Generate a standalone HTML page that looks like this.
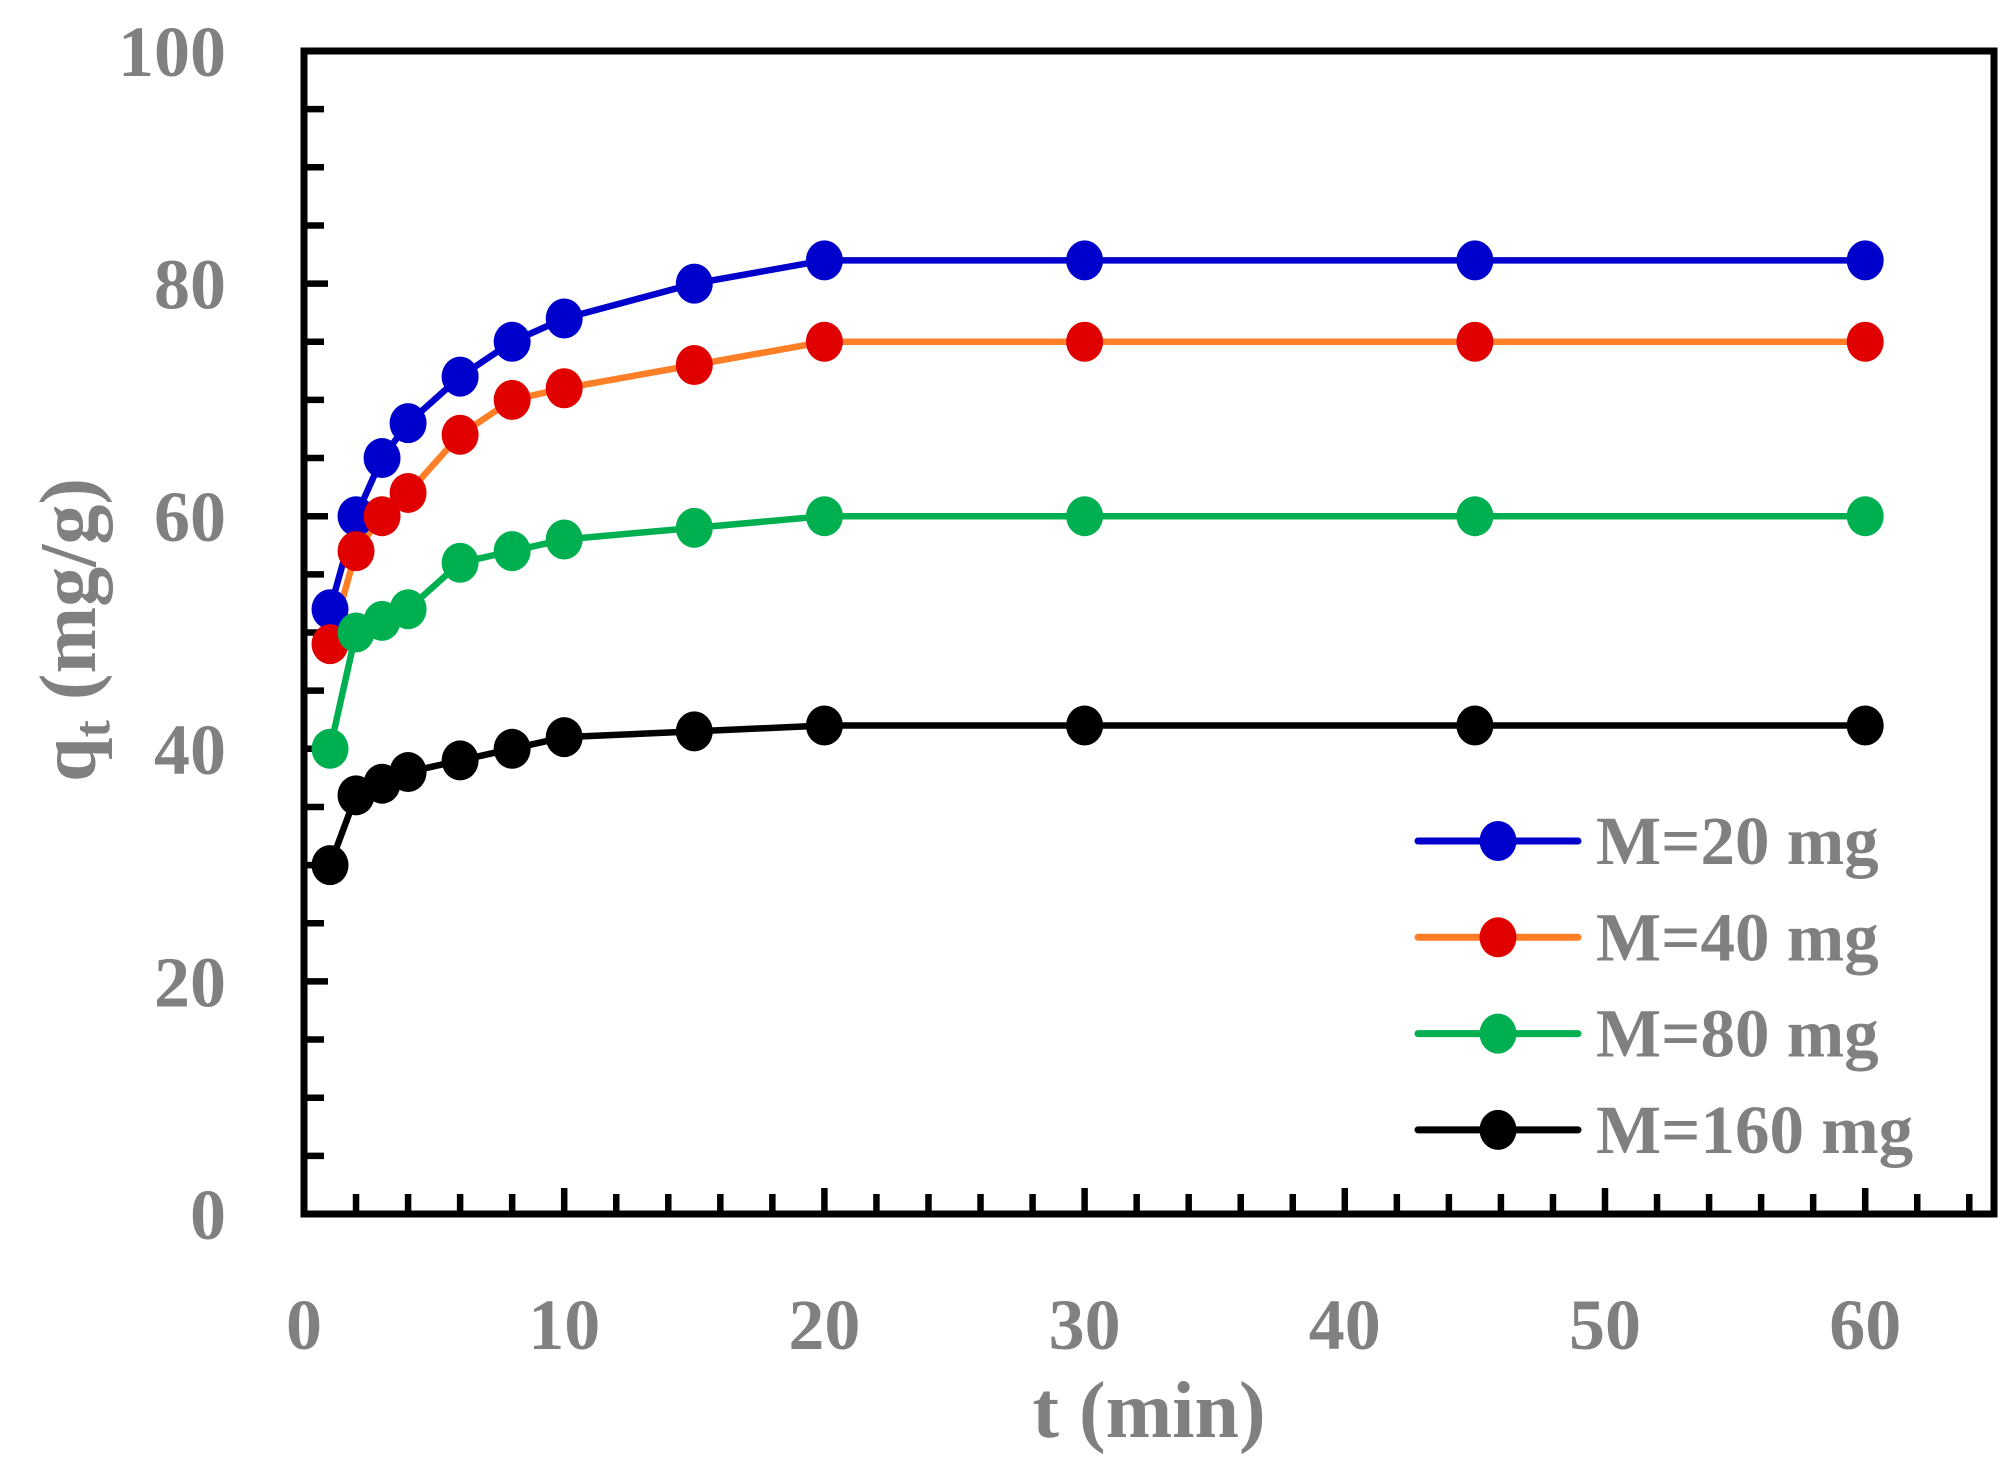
<!DOCTYPE html>
<html><head><meta charset="utf-8"><style>
html,body{margin:0;padding:0;background:#fff}
svg{display:block}
text{font-family:"Liberation Serif",serif;font-weight:bold;fill:#808080}
</style></head><body>
<svg id="s" width="2013" height="1467" viewBox="0 0 2013 1467" xmlns="http://www.w3.org/2000/svg"></svg>
<script>
const L=304,R=1994,T=51,B=1214;
const X=t=>L+t*26.02, Y=v=>B-v*11.63;
let h='';
for(let v=5;v<100;v+=5){const maj=v%20==0;h+=`<line x1="${L}" x2="${L+(maj?24:20)}" y1="${Y(v)}" y2="${Y(v)}" stroke="#000" stroke-width="6.5"/>`;}
for(let t=2;t<65;t+=2){const maj=t%10==0;h+=`<line x1="${X(t)}" x2="${X(t)}" y1="${B}" y2="${B-(maj?26:20)}" stroke="#000" stroke-width="6.5"/>`;}
h+=`<rect x="${L}" y="${T}" width="${R-L}" height="${B-T}" fill="none" stroke="#000" stroke-width="7"/>`;
for(let v=0;v<=100;v+=20)h+=`<text x="226" y="${Y(v)+25}" font-size="72" text-anchor="end">${v}</text>`;
for(let t=0;t<=60;t+=10)h+=`<text x="${X(t)}" y="1349" font-size="72" text-anchor="middle">${t}</text>`;
h+=`<text x="1149" y="1437" font-size="80" text-anchor="middle">t (min)</text>`;
h+=`<text transform="translate(95,630) rotate(-90)" font-size="80" text-anchor="middle">q<tspan font-size="52" dy="14">t</tspan><tspan dy="-14"> (mg/g)</tspan></text>`;
const ts=[1,2,3,4,6,8,10,15,20,30,45,60];
const S=[
 {l:'#0000cc',m:'#0000cc',d:[52,60,65,68,72,75,77,80,82,82,82,82],n:'M=20 mg'},
 {l:'#ff7f27',m:'#e00000',d:[49,57,60,62,67,70,71,73,75,75,75,75],n:'M=40 mg'},
 {l:'#00b050',m:'#00b050',d:[40,50,51,52,56,57,58,59,60,60,60,60],n:'M=80 mg'},
 {l:'#000',m:'#000',d:[30,36,37,38,39,40,41,41.5,42,42,42,42],n:'M=160 mg'}];
S.forEach((s,i)=>{
 h+=`<polyline fill="none" stroke="${s.l}" stroke-width="6.5" stroke-linejoin="round" points="${ts.map((t,j)=>X(t)+','+Y(s.d[j])).join(' ')}"/>`;
});
S.forEach((s,i)=>{
 ts.forEach((t,j)=>h+=`<ellipse cx="${X(t)}" cy="${Y(s.d[j])}" rx="18.5" ry="20" fill="${s.m}"/>`);
 const y=841+i*96.3;
 h+=`<line x1="1418" x2="1578" y1="${y}" y2="${y}" stroke="${s.l}" stroke-width="7" stroke-linecap="round"/>`;
 h+=`<ellipse cx="1498" cy="${y}" rx="18.5" ry="20" fill="${s.m}"/>`;
 h+=`<text x="1596" y="${y+23}" font-size="69">${s.n}</text>`;
});
document.getElementById('s').innerHTML=h;
</script>
</body></html>
